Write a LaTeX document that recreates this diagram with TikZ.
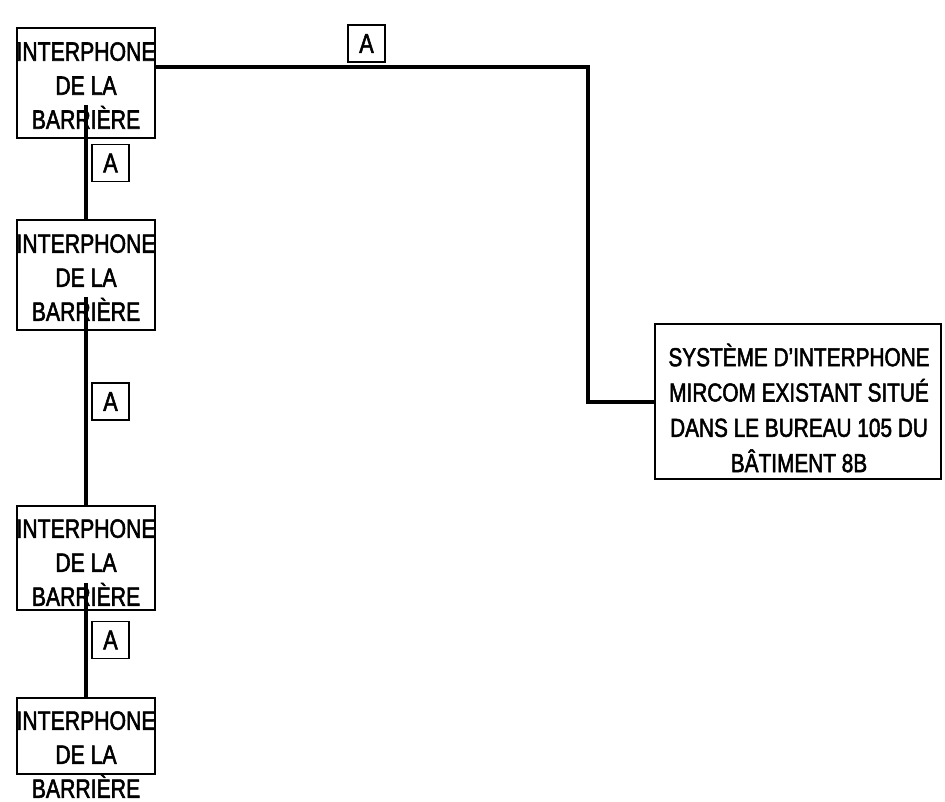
\documentclass[tikz,border=0pt]{standalone}
\usepackage{fontspec}
\setmainfont{Liberation Sans}[FakeStretch=0.8,FakeBold=2]
\usetikzlibrary{calc}
\begin{document}
\begin{tikzpicture}[x=1pt,y=-1pt,
  box/.style={draw,line width=2pt,inner sep=0pt,minimum width=138pt},
  lbl/.style={font=\fontsize{26.5}{34}\selectfont,align=center,inner sep=0pt},
  bigl/.style={font=\fontsize{26}{35.3}\selectfont,align=center,inner sep=0pt},
  tag/.style={draw,line width=1.8pt,minimum width=37pt,minimum height=37pt,inner sep=0pt,font=\fontsize{27}{30}\selectfont},
  wire/.style={line width=4pt}]
\useasboundingbox (0,0) rectangle (945,802);
% boxes
\node[box,minimum height=110pt] (b1) at (86,83) {};
\node[box,minimum height=110pt] (b2) at (86,275) {};
\node[box,minimum height=104pt] (b3) at (86,558) {};
\node[box,minimum height=76pt] (b4) at (86,736) {};
\node[box,minimum width=286pt,minimum height=155pt] (b5) at (798,401.5) {};
% texts
\node[lbl] (t1) at (86,85.5) {INTERPHONE\\DE LA\\BARRIÈRE};
\node[lbl] (t2) at (86,277.5) {INTERPHONE\\DE LA\\BARRIÈRE};
\node[lbl] (t3) at (86,562.5) {INTERPHONE\\DE LA\\BARRIÈRE};
\node[lbl] (t4) at (86,754.5) {INTERPHONE\\DE LA\\BARRIÈRE};
\node[bigl] (t5) at (799,408) {SYSTÈME D’INTERPHONE\\MIRCOM EXISTANT SITUÉ\\DANS LE BUREAU 105 DU\\BÂTIMENT 8B};
% connectors
\coordinate (s1) at ($(b1.north)+(0,78)$);
\coordinate (s2) at ($(b2.north)+(0,78)$);
\coordinate (s3) at ($(b3.north)+(0,78)$);
\draw[wire] (s1) -- (b2.north);
\draw[wire] (s2) -- (b3.north);
\draw[wire] (s3) -- (b4.north);
\coordinate (h1) at ($(b1.north east)+(0,40)$);
\coordinate (k1) at (588,67);
\draw[wire] (h1) -- (k1) |- (b5.west);
% tags
\node[tag] (a0) at (366.5,43.5) {A};
\node[tag] (a1) at (110.5,163) {A};
\node[tag] (a2) at (110.5,401.5) {A};
\node[tag] (a3) at (110.5,640) {A};
\end{tikzpicture}
\end{document}
